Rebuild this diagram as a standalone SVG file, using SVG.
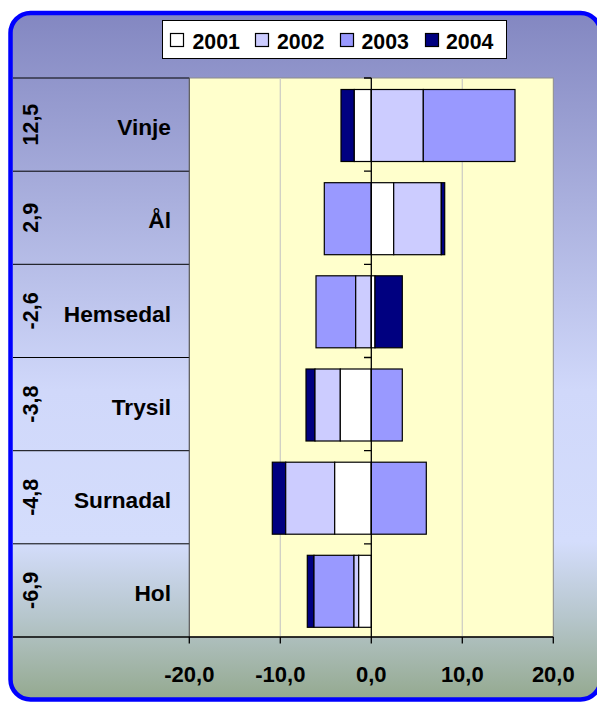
<svg xmlns="http://www.w3.org/2000/svg" width="597" height="702" viewBox="0 0 597 702">
  <defs>
    <linearGradient id="bg" x1="0" y1="0" x2="0" y2="1">
      <stop offset="0" stop-color="#8387c1"/>
      <stop offset="0.55" stop-color="#d0d8fa"/>
      <stop offset="0.77" stop-color="#d4ddfc"/>
      <stop offset="0.88" stop-color="#b6c6cc"/>
      <stop offset="1" stop-color="#94a98f"/>
    </linearGradient>
  </defs>
  <style>
    text { font-family: "Liberation Sans", Arial, sans-serif; font-weight: bold; fill: #000; }
    .cat { font-size: 22.7px; text-anchor: end; }
    .val { font-size: 21.5px; text-anchor: middle; }
    .ax { font-size: 22px; text-anchor: middle; }
    .leg { font-size: 21.3px; }
    .s1 { fill: #ffffff; stroke: #000; stroke-width: 1.2; }
    .s2 { fill: #ccccff; stroke: #000; stroke-width: 1.2; }
    .s3 { fill: #9999ff; stroke: #000; stroke-width: 1.2; }
    .s4 { fill: #000080; stroke: #000; stroke-width: 1.2; }
    .grid { stroke: #cfcfc4; stroke-width: 1.3; }
    .rowline { stroke: #000; stroke-width: 1; }
    .axis { stroke: #000; stroke-width: 1.3; fill: none; }
  </style>

  <!-- frame -->
  <rect x="10.5" y="13" width="590" height="686.5" rx="20" ry="20" fill="url(#bg)" stroke="#0000ff" stroke-width="4.5"/>

  <!-- plot area -->
  <rect x="189.3" y="78" width="364" height="559" fill="#ffffcc" stroke="#8c8c8c" stroke-width="1"/>
  <g id="gridlines">
    <line class="grid" x1="280.3" y1="78.5" x2="280.3" y2="636.5"/>
    <line class="grid" x1="462.3" y1="78.5" x2="462.3" y2="636.5"/>
  </g>

  <!-- legend -->
  <g id="legend">
    <rect x="162.5" y="20.5" width="344" height="38" fill="#ffffff" stroke="#000" stroke-width="1"/>
    <rect class="s1" x="170.5" y="33.5" width="13" height="13"/>
    <text class="leg" x="192.5" y="49">2001</text>
    <rect class="s2" x="255.5" y="33.5" width="13" height="13"/>
    <text class="leg" x="277" y="49">2002</text>
    <rect class="s3" x="340.5" y="33.5" width="13" height="13"/>
    <text class="leg" x="361.5" y="49">2003</text>
    <rect class="s4" x="425.5" y="33.5" width="13" height="13"/>
    <text class="leg" x="446" y="49">2004</text>
  </g>

  <!-- category table lines -->
  <g id="table">
    <line class="rowline" x1="13" y1="78" x2="189.3" y2="78"/>
    <line class="rowline" x1="13" y1="171.2" x2="189.3" y2="171.2"/>
    <line class="rowline" x1="13" y1="264.3" x2="189.3" y2="264.3"/>
    <line class="rowline" x1="13" y1="357.5" x2="189.3" y2="357.5"/>
    <line class="rowline" x1="13" y1="450.7" x2="189.3" y2="450.7"/>
    <line class="rowline" x1="13" y1="543.8" x2="189.3" y2="543.8"/>
    <line x1="189.3" y1="78" x2="189.3" y2="637" stroke="#555" stroke-width="1"/>
  </g>

  <!-- rows -->
  <g id="row-vinje">
    <text class="val" transform="translate(38 124.6) rotate(-90)">12,5</text>
    <text class="cat" x="171" y="135">Vinje</text>
    <rect class="s4" x="341" y="89.5" width="13.3" height="72"/>
    <rect class="s1" x="354.3" y="89.5" width="17" height="72"/>
    <rect class="s2" x="371.3" y="89.5" width="52" height="72"/>
    <rect class="s3" x="423.3" y="89.5" width="91.7" height="72"/>
  </g>
  <g id="row-al">
    <text class="val" transform="translate(38 217.8) rotate(-90)">2,9</text>
    <text class="cat" x="171" y="228.3">Ål</text>
    <rect class="s3" x="324.3" y="182.7" width="47" height="72"/>
    <rect class="s1" x="371.3" y="182.7" width="22.4" height="72"/>
    <rect class="s2" x="393.7" y="182.7" width="47.6" height="72"/>
    <rect class="s4" x="441.3" y="182.7" width="3.4" height="72"/>
  </g>
  <g id="row-hemsedal">
    <text class="val" transform="translate(38 310.9) rotate(-90)">-2,6</text>
    <text class="cat" x="171" y="321.5">Hemsedal</text>
    <rect class="s3" x="316" y="275.8" width="39.7" height="72"/>
    <rect class="s2" x="355.7" y="275.8" width="15.6" height="72"/>
    <rect class="s1" x="371.3" y="275.8" width="3.7" height="72"/>
    <rect class="s4" x="375" y="275.8" width="27.3" height="72"/>
  </g>
  <g id="row-trysil">
    <text class="val" transform="translate(38 404.1) rotate(-90)">-3,8</text>
    <text class="cat" x="171" y="414.8">Trysil</text>
    <rect class="s4" x="306" y="369" width="9" height="72"/>
    <rect class="s2" x="315" y="369" width="25.3" height="72"/>
    <rect class="s1" x="340.3" y="369" width="31" height="72"/>
    <rect class="s3" x="371.3" y="369" width="31" height="72"/>
  </g>
  <g id="row-surnadal">
    <text class="val" transform="translate(38 497.3) rotate(-90)">-4,8</text>
    <text class="cat" x="171" y="507.8">Surnadal</text>
    <rect class="s4" x="272.3" y="462.2" width="13.4" height="72"/>
    <rect class="s2" x="285.7" y="462.2" width="49" height="72"/>
    <rect class="s1" x="334.7" y="462.2" width="36.6" height="72"/>
    <rect class="s3" x="371.3" y="462.2" width="55" height="72"/>
  </g>
  <g id="row-hol">
    <text class="val" transform="translate(38 590.4) rotate(-90)">-6,9</text>
    <text class="cat" x="171" y="600.8">Hol</text>
    <rect class="s4" x="307.3" y="555.3" width="6.7" height="72"/>
    <rect class="s3" x="314" y="555.3" width="40" height="72"/>
    <rect class="s2" x="354" y="555.3" width="4.7" height="72"/>
    <rect class="s1" x="358.7" y="555.3" width="12.6" height="72"/>
  </g>

  <!-- axes -->
  <g id="axes">
    <line class="axis" x1="371.3" y1="78" x2="371.3" y2="637"/>
    <path class="axis" d="M364 78H371.3M364 171.2H371.3M364 264.3H371.3M364 357.5H371.3M364 450.7H371.3M364 543.8H371.3"/>
    <line class="axis" x1="13" y1="637" x2="553.3" y2="637"/>
    <path class="axis" d="M189.3 637V643.5M280.3 637V643.5M371.3 637V643.5M462.3 637V643.5M553.3 637V643.5"/>
    <text class="ax" x="189.3" y="682">-20,0</text>
    <text class="ax" x="280.3" y="682">-10,0</text>
    <text class="ax" x="371.3" y="682">0,0</text>
    <text class="ax" x="462.3" y="682">10,0</text>
    <text class="ax" x="553.3" y="682">20,0</text>
  </g>
</svg>
